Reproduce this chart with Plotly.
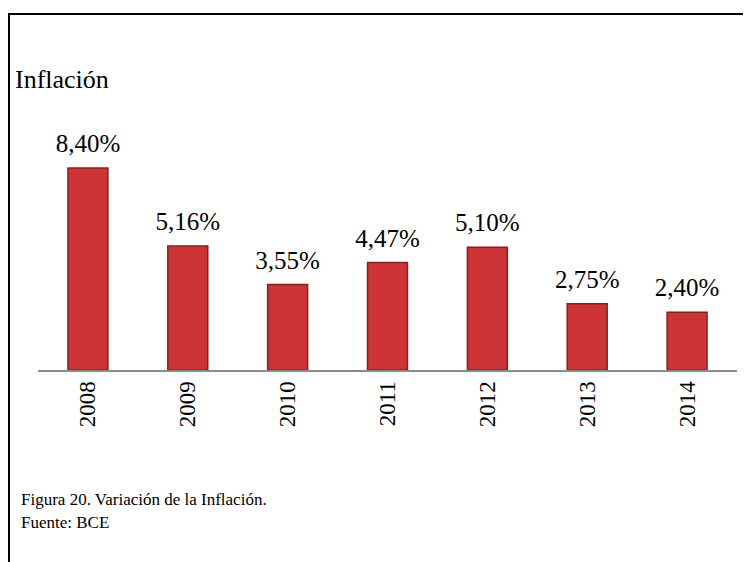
import plotly.graph_objects as go

years = ["2008", "2009", "2010", "2011", "2012", "2013", "2014"]
inflation = [8.40, 5.16, 3.55, 4.47, 5.10, 2.75, 2.40]
labels = [f"{v:.2f}%".replace(".", ",") for v in inflation]

# page body has an 8px margin; figure is sized to fit the viewport
W, H = 743, 554
OFF = 8
FONT = "Liberation Serif"


def px(x):
    return (x - OFF) / W


def py(y):
    return 1 - (y - OFF) / H


fig = go.Figure()
fig.add_trace(go.Bar(
    x=years, y=inflation,
    width=0.4,
    marker=dict(color="#CC3438", line=dict(color="#86201F", width=1.5)),
    hoverinfo="skip",
))
fig.add_trace(go.Scatter(
    x=years, y=inflation,
    mode="markers+text",
    text=labels,
    textposition="top center",
    marker=dict(size=14, opacity=0),
    textfont=dict(family=FONT, size=25, color="black"),
    cliponaxis=False,
    hoverinfo="skip",
))

fig.update_layout(
    width=W, height=H,
    margin=dict(l=0, r=0, t=0, b=0),
    paper_bgcolor="white", plot_bgcolor="white",
    showlegend=False,
    font=dict(family=FONT, color="black"),
    xaxis=dict(
        type="category",
        range=[-0.5, 6.5],
        domain=[px(38), px(737)],
        showline=True, linecolor="#8C8C8C", linewidth=2,
        tickangle=-90, tickfont=dict(family=FONT, size=23, color="black"),
        ticks="", showgrid=False,
    ),
    yaxis=dict(
        domain=[py(370), py(100)],
        range=[0, 270 / 24.05],
        visible=False, showgrid=False,
    ),
    shapes=[
        dict(type="line", xref="paper", yref="paper", x0=0, x1=1, y0=py(14), y1=py(14),
             line=dict(color="black", width=2)),
        dict(type="line", xref="paper", yref="paper", x0=1 / W, x1=1 / W, y0=0, y1=py(14),
             line=dict(color="black", width=2)),
    ],
    annotations=[
        dict(text="Inflación", xref="paper", yref="paper", x=px(13), y=py(80),
             xanchor="left", yanchor="middle", showarrow=False,
             font=dict(family=FONT, size=26, color="black")),
        dict(text="Figura 20. Variación de la Inflación.", xref="paper", yref="paper",
             x=px(19), y=py(499), xanchor="left", yanchor="middle", showarrow=False,
             font=dict(family=FONT, size=17, color="black")),
        dict(text="Fuente: BCE", xref="paper", yref="paper",
             x=px(19), y=py(522), xanchor="left", yanchor="middle", showarrow=False,
             font=dict(family=FONT, size=17, color="black")),
    ],
)

fig.write_html("out.html")
